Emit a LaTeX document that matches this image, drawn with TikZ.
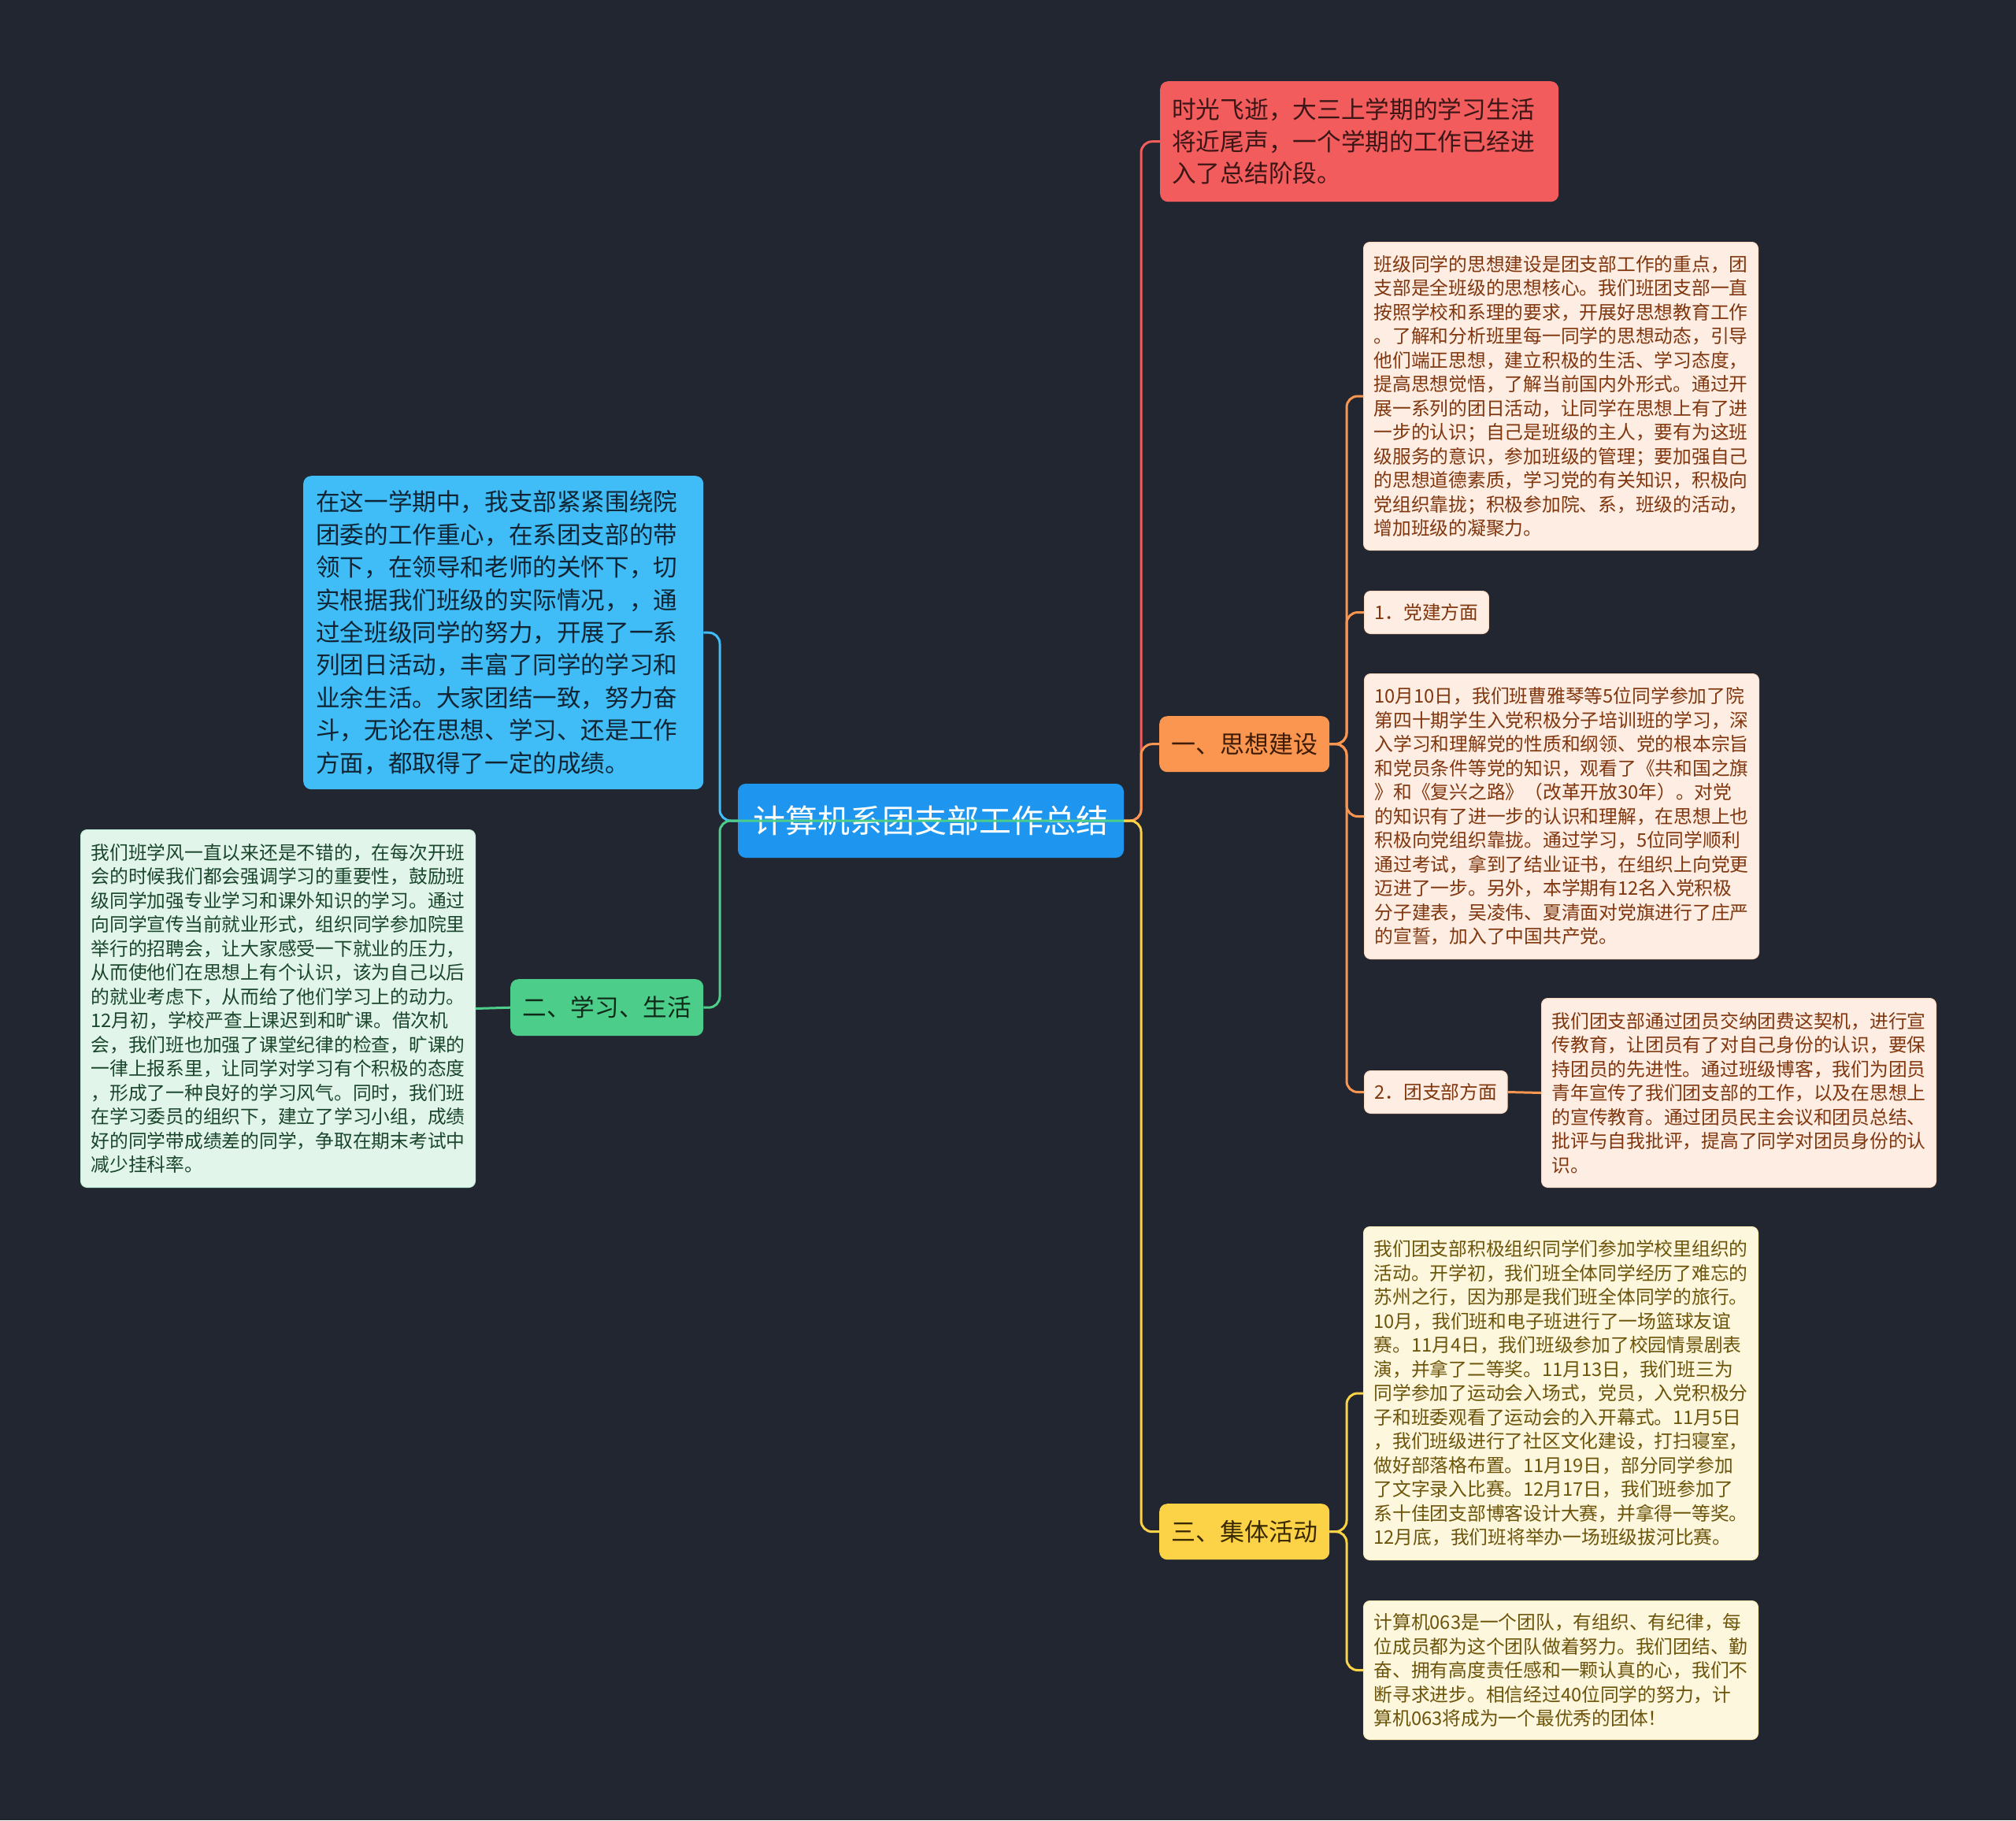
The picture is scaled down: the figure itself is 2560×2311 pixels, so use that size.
\documentclass[tikz,border=0pt]{standalone}
\usepackage{fontspec}
\setmainfont{Noto Sans CJK SC}
\definecolor{bg}{RGB}{34,38,49}
\definecolor{cblue}{RGB}{30,150,240}
\definecolor{cred}{RGB}{242,92,92}
\definecolor{credtxt}{RGB}{60,22,22}
\definecolor{clblue}{RGB}{64,189,247}
\definecolor{clbluetxt}{RGB}{16,36,52}
\definecolor{corange}{RGB}{250,150,80}
\definecolor{corangetxt}{RGB}{62,28,6}
\definecolor{cgreen}{RGB}{76,206,138}
\definecolor{cgreentxt}{RGB}{16,42,26}
\definecolor{cyellow}{RGB}{252,210,70}
\definecolor{cyellowtxt}{RGB}{58,42,0}
\definecolor{olight}{RGB}{253,237,226}
\definecolor{olighttxt}{RGB}{128,54,14}
\definecolor{glight}{RGB}{226,245,235}
\definecolor{glighttxt}{RGB}{26,70,44}
\definecolor{ylight}{RGB}{253,247,222}
\definecolor{ylighttxt}{RGB}{108,84,10}
\tikzset{
  topic/.style={rectangle, rounded corners=10pt, inner sep=0pt, align=center},
  bigtext/.style={rectangle, rounded corners=10pt, anchor=north west, align=left, inner ysep=0pt},
  small/.style={rectangle, rounded corners=8pt, anchor=north west, align=left, inner ysep=0pt, inner xsep=13pt,
    text width=475pt, minimum height=#1, font=\fontsize{23.75}{30.5}\selectfont},
  tag/.style={rectangle, rounded corners=8pt, anchor=north west, inner ysep=0pt, inner xsep=13pt,
    minimum height=54pt, font=\fontsize{23.75}{30.5}\selectfont},
  conn/.style={line width=3pt, rounded corners=14pt},
}
\begin{document}
\begin{tikzpicture}[x=1pt,y=-1pt]
\fill[bg] (0,0) rectangle (2560,2311);
\useasboundingbox (0,0) rectangle (2560,2311);

% center
\node[topic, fill=cblue, text=white, minimum width=490pt, minimum height=94pt,
  font=\fontsize{41}{48}\selectfont] (c) at (1182,1042) {计算机系团支部工作总结};

% red
\node[bigtext, fill=cred, text=credtxt, inner xsep=15pt, text width=476pt, minimum height=153pt,
  font=\fontsize{30.7}{40.5}\selectfont] (r) at (1473,103)
  {时光飞逝，大三上学期的学习生活\\将近尾声，一个学期的工作已经进\\入了总结阶段。};

% light blue
\node[bigtext, fill=clblue, text=clbluetxt, inner xsep=16pt, text width=476pt, minimum height=398pt,
  font=\fontsize{30.6}{41.4}\selectfont] (b) at (385,604)
  {在这一学期中，我支部紧紧围绕院\\团委的工作重心，在系团支部的带\\领下，在领导和老师的关怀下，切\\实根据我们班级的实际情况，，通\\过全班级同学的努力，开展了一系\\列团日活动，丰富了同学的学习和\\业余生活。大家团结一致，努力奋\\斗，无论在思想、学习、还是工作\\方面，都取得了一定的成绩。};

% branch topics
\node[topic, anchor=north west, fill=corange, text=corangetxt, minimum width=216pt, minimum height=71pt,
  font=\fontsize{31}{36}\selectfont] (s1) at (1472,909) {一、思想建设};
\node[topic, anchor=north west, fill=cgreen, text=cgreentxt, minimum width=245pt, minimum height=72pt,
  font=\fontsize{30.6}{36}\selectfont] (s2) at (648,1243) {二、学习、生活};
\node[topic, anchor=north west, fill=cyellow, text=cyellowtxt, minimum width=216pt, minimum height=71pt,
  font=\fontsize{31}{36}\selectfont] (s3) at (1472,1909) {三、集体活动};

% orange children
\node[small=391pt, fill=olight, draw=corange!35, line width=1pt, text=olighttxt] (o1) at (1731,307)
{班级同学的思想建设是团支部工作的重点，团\\支部是全班级的思想核心。我们班团支部一直\\按照学校和系理的要求，开展好思想教育工作\\。了解和分析班里每一同学的思想动态，引导\\他们端正思想，建立积极的生活、学习态度，\\提高思想觉悟，了解当前国内外形式。通过开\\展一系列的团日活动，让同学在思想上有了进\\一步的认识；自己是班级的主人，要有为这班\\级服务的意识，参加班级的管理；要加强自己\\的思想道德素质，学习党的有关知识，积极向\\党组织靠拢；积极参加院、系，班级的活动，\\增加班级的凝聚力。};

\node[tag, fill=olight, draw=corange!35, line width=1pt, text=olighttxt] (o2) at (1732,750) {1．党建方面};

\node[small=362pt, fill=olight, draw=corange!35, line width=1pt, text=olighttxt] (o3) at (1732,855)
{10月10日，我们班曹雅琴等5位同学参加了院\\第四十期学生入党积极分子培训班的学习，深\\入学习和理解党的性质和纲领、党的根本宗旨\\和党员条件等党的知识，观看了《共和国之旗\\》和《复兴之路》（改革开放30年）。对党\\的知识有了进一步的认识和理解，在思想上也\\积极向党组织靠拢。通过学习，5位同学顺利\\通过考试，拿到了结业证书，在组织上向党更\\迈进了一步。另外，本学期有12名入党积极\\分子建表，吴凌伟、夏清面对党旗进行了庄严\\的宣誓，加入了中国共产党。};

\node[tag, fill=olight, draw=corange!35, line width=1pt, text=olighttxt] (o4) at (1732,1359) {2．团支部方面};

\node[small=240pt, fill=olight, draw=corange!35, line width=1pt, text=olighttxt] (o5) at (1957,1267)
{我们团支部通过团员交纳团费这契机，进行宣\\传教育，让团员有了对自己身份的认识，要保\\持团员的先进性。通过班级博客，我们为团员\\青年宣传了我们团支部的工作，以及在思想上\\的宣传教育。通过团员民主会议和团员总结、\\批评与自我批评，提高了同学对团员身份的认\\识。};

% green child
\node[small=454pt, fill=glight, draw=cgreen!35, line width=1pt, text=glighttxt] (g1) at (102,1053)
{我们班学风一直以来还是不错的，在每次开班\\会的时候我们都会强调学习的重要性，鼓励班\\级同学加强专业学习和课外知识的学习。通过\\向同学宣传当前就业形式，组织同学参加院里\\举行的招聘会，让大家感受一下就业的压力，\\从而使他们在思想上有个认识，该为自己以后\\的就业考虑下，从而给了他们学习上的动力。\\12月初，学校严查上课迟到和旷课。借次机\\会，我们班也加强了课堂纪律的检查，旷课的\\一律上报系里，让同学对学习有个积极的态度\\，形成了一种良好的学习风气。同时，我们班\\在学习委员的组织下，建立了学习小组，成绩\\好的同学带成绩差的同学，争取在期末考试中\\减少挂科率。};

% yellow children
\node[small=423pt, fill=ylight, draw=cyellow!40, line width=1pt, text=ylighttxt] (y1) at (1731,1557)
{我们团支部积极组织同学们参加学校里组织的\\活动。开学初，我们班全体同学经历了难忘的\\苏州之行，因为那是我们班全体同学的旅行。\\10月，我们班和电子班进行了一场篮球友谊\\赛。11月4日，我们班级参加了校园情景剧表\\演，并拿了二等奖。11月13日，我们班三为\\同学参加了运动会入场式，党员，入党积极分\\子和班委观看了运动会的入开幕式。11月5日\\，我们班级进行了社区文化建设，打扫寝室，\\做好部落格布置。11月19日，部分同学参加\\了文字录入比赛。12月17日，我们班参加了\\系十佳团支部博客设计大赛，并拿得一等奖。\\12月底，我们班将举办一场班级拔河比赛。};

\node[small=176pt, fill=ylight, draw=cyellow!40, line width=1pt, text=ylighttxt] (y2) at (1731,2032)
{计算机063是一个团队，有组织、有纪律，每\\位成员都为这个团队做着努力。我们团结、勤\\奋、拥有高度责任感和一颗认真的心，我们不\\断寻求进步。相信经过40位同学的努力，计\\算机063将成为一个最优秀的团体！};

% trunk coordinates
\coordinate (cR) at (1449,1042);
\coordinate (cL) at (914,1042);
\coordinate (oR) at (1710,944.5);
\coordinate (yR) at (1710,1944.5);

% connectors, right side
\draw[conn, cred] (c.east) -- (cR) |- (r.west);
\draw[conn, corange] (c.east) -- (cR) |- (s1.west);
\draw[conn, cyellow] (c.east) -- (cR) |- (s3.west);
% orange sub-branches
\draw[conn, corange] (s1.east) -- (oR) |- (o1.west);
\draw[conn, corange] (s1.east) -- (oR) |- (o2.west);
\draw[conn, corange] (s1.east) -- (oR) |- (o3.west);
\draw[conn, corange] (s1.east) -- (oR) |- (o4.west);
\draw[conn, corange] (o4.east) -- (o5.west);
% yellow sub-branches
\draw[conn, cyellow] (s3.east) -- (yR) |- (y1.west);
\draw[conn, cyellow] (s3.east) -- (yR) |- (y2.west);
% left side
\draw[conn, clblue] (c.west) -- (cL) |- (b.east);
\draw[conn, cgreen] (c.east) -- (cL) |- (s2.east);
\draw[conn, cgreen] (s2.west) -- (g1.east);
\end{tikzpicture}
\end{document}
